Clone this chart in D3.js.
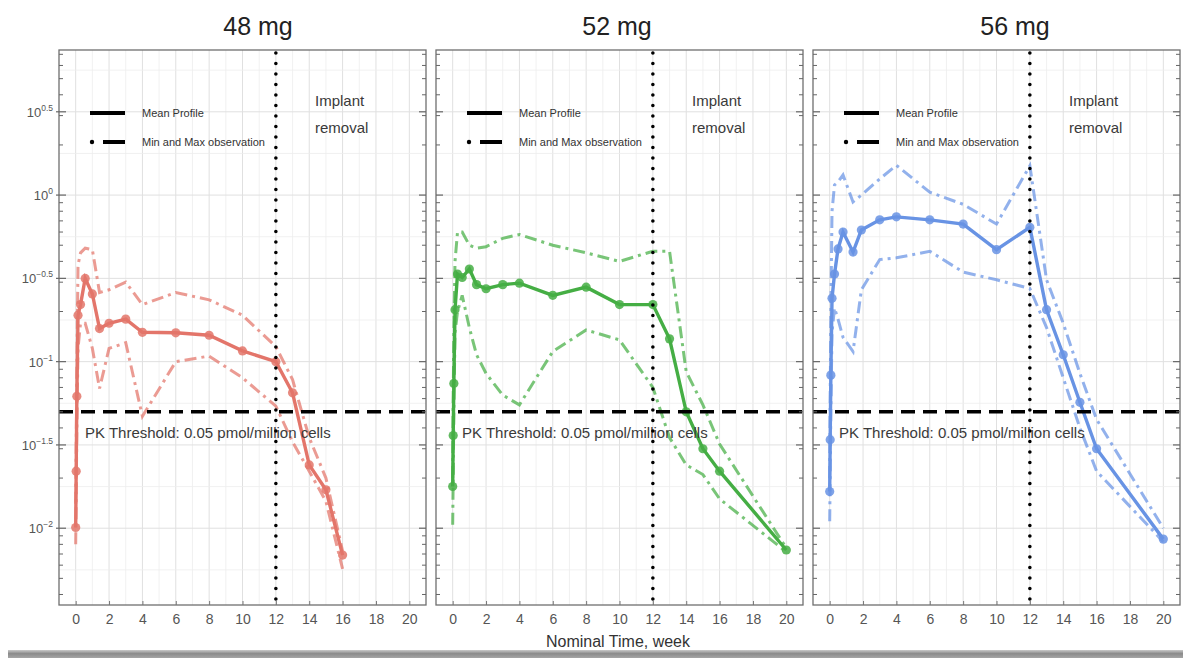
<!DOCTYPE html>
<html>
<head>
<meta charset="utf-8">
<script src="https://cdn.jsdelivr.net/npm/d3@7"></script>
<style>
  body { margin: 0; background: #fff; }
  svg { display: block; font-family: "Liberation Sans", Arial, sans-serif; }
</style>
</head>
<body>
<svg id="chart" width="1183" height="658"></svg>
<script>
// Intracellular PK profiles by implant dose (pmol/million cells), weeks after insertion
const doses = ["48 mg", "52 mg", "56 mg"];

const time48 = [0, 0.03, 0.07, 0.14, 0.29, 0.57, 1, 1.43, 2, 3, 4, 6, 8, 10, 12, 13, 14, 15, 16];
const mean48 = [0.0101, 0.022, 0.062, 0.19, 0.22, 0.316, 0.255, 0.158, 0.17, 0.18, 0.15, 0.149, 0.144, 0.116, 0.100, 0.065, 0.024, 0.017, 0.0069];
const max48  = [0.014, 0.03, 0.09, 0.38, 0.45, 0.48, 0.47, 0.26, 0.27, 0.30, 0.22, 0.26, 0.235, 0.19, 0.123, 0.078, 0.035, 0.02, 0.0073];
const min48  = [0.008, 0.015, 0.04, 0.12, 0.17, 0.17, 0.12, 0.069, 0.12, 0.13, 0.047, 0.10, 0.108, 0.08, 0.054, 0.033, 0.022, 0.0145, 0.0057];

const time52 = [0, 0.03, 0.07, 0.14, 0.29, 0.57, 1, 1.43, 2, 3, 4, 6, 8, 10, 12, 13, 14, 15, 16, 20];
const mean52 = [0.0178, 0.036, 0.074, 0.205, 0.336, 0.32, 0.36, 0.29, 0.274, 0.29, 0.296, 0.25, 0.28, 0.22, 0.22, 0.137, 0.05, 0.03, 0.022, 0.0074];
const max52  = [0.02, 0.06, 0.15, 0.4, 0.6, 0.6, 0.5, 0.48, 0.49, 0.55, 0.58, 0.5, 0.45, 0.40, 0.46, 0.46, 0.087, 0.055, 0.032, 0.0076];
const min52  = [0.0105, 0.02, 0.05, 0.15, 0.2, 0.25, 0.16, 0.11, 0.085, 0.063, 0.055, 0.115, 0.155, 0.135, 0.07, 0.035, 0.024, 0.021, 0.015, 0.0072];

const time56 = [0, 0.03, 0.07, 0.14, 0.29, 0.5, 0.8, 1.4, 1.9, 3, 4, 6, 8, 10, 12, 13, 14, 15, 16, 20];
const mean56 = [0.0166, 0.034, 0.083, 0.24, 0.336, 0.475, 0.60, 0.455, 0.617, 0.71, 0.74, 0.71, 0.67, 0.47, 0.64, 0.205, 0.11, 0.057, 0.030, 0.0086];
const max56  = [0.02, 0.06, 0.2, 0.8, 1.15, 1.2, 1.32, 0.91, 1.0, 1.25, 1.51, 1.04, 0.88, 0.67, 1.5, 0.31, 0.17, 0.085, 0.045, 0.01];
const min56  = [0.011, 0.02, 0.05, 0.15, 0.21, 0.18, 0.14, 0.115, 0.27, 0.41, 0.42, 0.46, 0.345, 0.31, 0.275, 0.16, 0.08, 0.04, 0.022, 0.0083];

const xTicks = [0, 2, 4, 6, 8, 10, 12, 14, 16, 18, 20];
const yTickExps = [0.5, 0, -0.5, -1, -1.5, -2];
const yTickLabels = ["0.5", "0", "\u22120.5", "\u22121", "\u22121.5", "\u22122"];
const threshold = 0.05;
const removalWeek = 12;
const colors = ["#e3756a", "#45ae44", "#6893e4"];

const series = [
  { t: time48, mean: mean48, max: max48, min: min48 },
  { t: time52, mean: mean52, max: max52, min: min52 },
  { t: time56, mean: mean56, max: max56, min: min56 }
];

// ---- layout ----
const svg = d3.select("#chart");
const panelTop = 50, panelBottom = 605, panelW = 367;
const panelLefts = [59, 436, 813];
const titleOffsets = [199, 181, 202];

const y = d3.scaleLog()
  .domain([Math.pow(10, -2.461), Math.pow(10, 0.871)])
  .range([panelBottom, panelTop]);

const narrow = "'Liberation Sans Narrow', 'Arial Narrow', 'Liberation Sans', Arial, sans-serif";

// shaded bar along the bottom edge
const defs = svg.append("defs");
const grad = defs.append("linearGradient").attr("id", "barGrad")
  .attr("x1", 0).attr("x2", 0).attr("y1", 0).attr("y2", 1);
grad.append("stop").attr("offset", "0%").attr("stop-color", "#c9c9c9");
grad.append("stop").attr("offset", "45%").attr("stop-color", "#8a8a8a");
grad.append("stop").attr("offset", "100%").attr("stop-color", "#a5a5a5");
svg.append("rect").attr("x", 8).attr("y", 650).attr("width", 1175).attr("height", 8)
  .attr("fill", "url(#barGrad)");

const quarterDecades = d3.range(-2.5, 1.0001, 0.25);
const minorLogTicks = [];
for (let k = -3; k <= 0; k++) {
  for (let m = 2; m <= 9; m++) minorLogTicks.push(m * Math.pow(10, k));
}
const inRange = v => v >= y.domain()[0] && v <= y.domain()[1];

series.forEach((s, i) => {
  const left = panelLefts[i];
  const x = d3.scaleLinear().domain([-1, 21]).range([left, left + panelW]);
  const g = svg.append("g");

  const clipId = "clip" + i;
  defs.append("clipPath").attr("id", clipId)
    .append("rect").attr("x", left).attr("y", panelTop)
    .attr("width", panelW).attr("height", panelBottom - panelTop);

  // grid
  const grid = g.append("g");
  d3.range(0, 21).forEach(w => {
    grid.append("line")
      .attr("x1", x(w)).attr("x2", x(w)).attr("y1", panelTop).attr("y2", panelBottom)
      .attr("stroke", w % 2 === 0 ? "#e0e0e0" : "#ededed")
      .attr("stroke-width", w % 2 === 0 ? 1 : 0.8);
  });
  quarterDecades.forEach((e, k) => {
    const v = Math.pow(10, e);
    if (!inRange(v)) return;
    grid.append("line")
      .attr("x1", left).attr("x2", left + panelW).attr("y1", y(v)).attr("y2", y(v))
      .attr("stroke", k % 2 === 0 ? "#e0e0e0" : "#ededed")
      .attr("stroke-width", k % 2 === 0 ? 1 : 0.8);
  });

  const plot = g.append("g").attr("clip-path", `url(#${clipId})`);
  const pts = arr => s.t.map((t, j) => ({ t, v: arr[j] }));
  const line = d3.line().x(d => x(d.t)).y(d => y(d.v));

  // min / max observation envelopes
  [s.max, s.min].forEach(arr => {
    plot.append("path").datum(pts(arr))
      .attr("d", line)
      .attr("fill", "none")
      .attr("stroke", colors[i])
      .attr("stroke-opacity", 0.72)
      .attr("stroke-width", 3)
      .attr("stroke-dasharray", "12,5,3,5");
  });

  // mean profile
  plot.append("path").datum(pts(s.mean))
    .attr("d", line)
    .attr("fill", "none")
    .attr("stroke", colors[i])
    .attr("stroke-width", 3.4);
  plot.selectAll("circle.m").data(pts(s.mean)).join("circle")
    .attr("cx", d => x(d.t)).attr("cy", d => y(d.v)).attr("r", 4.6)
    .attr("fill", colors[i]).attr("fill-opacity", 0.85);

  // PK threshold
  g.append("line")
    .attr("x1", left).attr("x2", left + panelW)
    .attr("y1", y(threshold)).attr("y2", y(threshold))
    .attr("stroke", "#000").attr("stroke-width", 3.6)
    .attr("stroke-dasharray", "14,8");
  g.append("text")
    .attr("x", left + 26).attr("y", y(threshold) + 26)
    .attr("font-size", 15).attr("fill", "#3a3a3a")
    .text("PK Threshold: 0.05 pmol/million cells");

  // implant removal marker
  g.append("line")
    .attr("x1", x(removalWeek)).attr("x2", x(removalWeek))
    .attr("y1", panelTop + 3).attr("y2", panelBottom)
    .attr("stroke", "#000").attr("stroke-width", 3.6)
    .attr("stroke-linecap", "round")
    .attr("stroke-dasharray", "0,10.5");
  const ir = g.append("text").attr("font-size", 15).attr("fill", "#3a3a3a");
  ir.append("tspan").attr("x", left + 256).attr("y", 106).text("Implant");
  ir.append("tspan").attr("x", left + 256).attr("y", 133).text("removal");

  // legend
  const lg = g.append("g");
  lg.append("line")
    .attr("x1", left + 31).attr("x2", left + 66).attr("y1", 113).attr("y2", 113)
    .attr("stroke", "#000").attr("stroke-width", 4);
  lg.append("circle").attr("cx", left + 33).attr("cy", 142).attr("r", 2.2).attr("fill", "#000");
  lg.append("line")
    .attr("x1", left + 44).attr("x2", left + 66).attr("y1", 142).attr("y2", 142)
    .attr("stroke", "#000").attr("stroke-width", 4);
  lg.append("text").attr("x", left + 83).attr("y", 117)
    .attr("font-size", 11).attr("font-family", narrow).attr("fill", "#333").text("Mean Profile");
  lg.append("text").attr("x", left + 83).attr("y", 146)
    .attr("font-size", 11).attr("font-family", narrow).attr("fill", "#333").text("Min and Max observation");

  // panel border
  g.append("rect")
    .attr("x", left).attr("y", panelTop).attr("width", panelW).attr("height", panelBottom - panelTop)
    .attr("fill", "none").attr("stroke", "#6f6f6f").attr("stroke-width", 1.3);

  // y ticks on both sides of the panel, pointing inward
  const tk = g.append("g").attr("stroke", "#666");
  yTickExps.forEach(e => {
    const yy = y(Math.pow(10, e));
    tk.append("line").attr("x1", left - (i === 0 ? 3 : 0)).attr("x2", left + 7).attr("y1", yy).attr("y2", yy).attr("stroke-width", 1.2);
    tk.append("line").attr("x1", left + panelW - 7).attr("x2", left + panelW).attr("y1", yy).attr("y2", yy).attr("stroke-width", 1.2);
  });
  minorLogTicks.filter(inRange).forEach(v => {
    const yy = y(v);
    tk.append("line").attr("x1", left).attr("x2", left + 4).attr("y1", yy).attr("y2", yy).attr("stroke-width", 1);
    tk.append("line").attr("x1", left + panelW - 4).attr("x2", left + panelW).attr("y1", yy).attr("y2", yy).attr("stroke-width", 1);
  });

  // x axis
  const xa = g.append("g").attr("transform", `translate(0,${panelBottom})`)
    .call(d3.axisBottom(x).tickValues(xTicks).tickSize(-4).tickPadding(9));
  xa.select(".domain").remove();
  xa.selectAll(".tick line").attr("stroke", "#777");
  xa.selectAll(".tick text")
    .attr("font-size", 14).attr("font-family", narrow).attr("fill", "#555");

  // title
  svg.append("text")
    .attr("x", left + titleOffsets[i]).attr("y", 35)
    .attr("text-anchor", "middle").attr("font-size", 25).attr("fill", "#222")
    .text(doses[i]);
});

// y tick labels (shared, left of the first panel)
const yl = svg.append("g");
yTickExps.forEach((e, k) => {
  const t = yl.append("text")
    .attr("x", 53).attr("y", y(Math.pow(10, e)) + 5)
    .attr("text-anchor", "end").attr("fill", "#555").attr("font-size", 13)
    .attr("font-family", narrow);
  t.append("tspan").text("10");
  t.append("tspan").attr("font-size", 8.5).attr("dy", -6).text(yTickLabels[k]);
});

// x axis title
svg.append("text")
  .attr("x", 618).attr("y", 647)
  .attr("text-anchor", "middle").attr("font-size", 16).attr("fill", "#333")
  .text("Nominal Time, week");
</script>
</body>
</html>
